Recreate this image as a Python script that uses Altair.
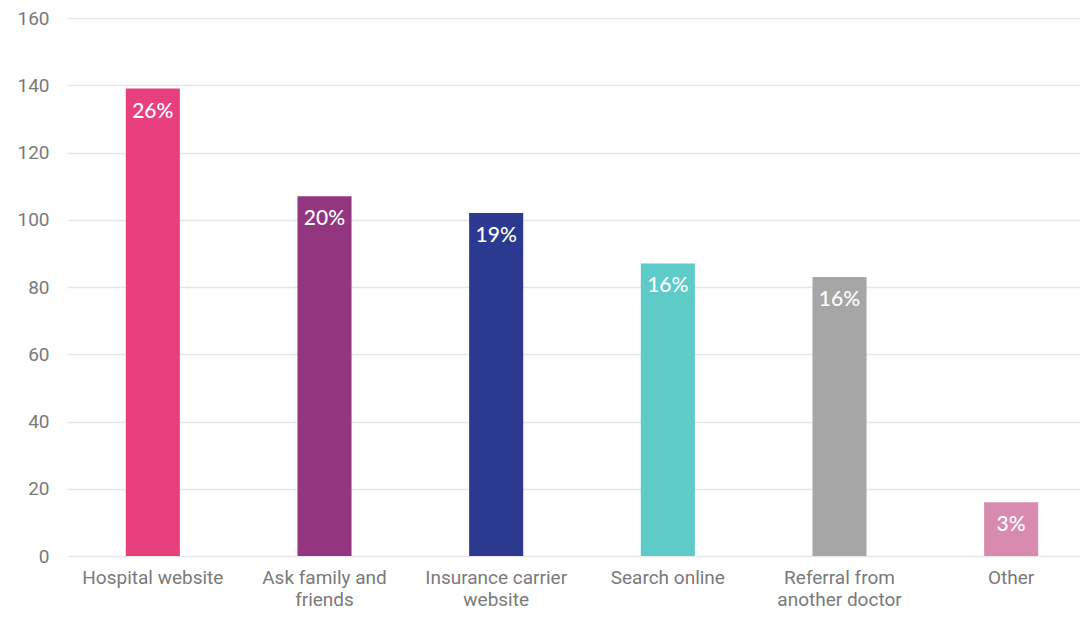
import altair as alt
import pandas as pd

categories = ["Hospital website", "Ask family and friends", "Insurance carrier website",
              "Search online", "Referral from another doctor", "Other"]
label_lines = [["Hospital website"], ["Ask family and", "friends"], ["Insurance carrier", "website"],
               ["Search online"], ["Referral from", "another doctor"], ["Other"]]
counts = [139, 107, 102, 87, 83, 16]
percents = ["26%", "20%", "19%", "16%", "16%", "3%"]
colors = ["#E8407F", "#943580", "#2B3990", "#5ECBC8", "#A6A6A6", "#D98AAF"]

df = pd.DataFrame({"category": categories, "count": counts, "pct": percents})

expr = "datum.label"
for cat, lines in reversed(list(zip(categories, label_lines))):
    arr = "[" + ", ".join("'" + l + "'" for l in lines) + "]"
    expr = f"datum.label == '{cat}' ? {arr} : ({expr})"

x = alt.X("category:N", sort=categories, title=None,
          scale=alt.Scale(paddingInner=0.685, paddingOuter=0.3425, range=[0, 1030]),
          axis=alt.Axis(labelAngle=0, labelExpr=expr, labelFontSize=19, labelColor="#7a7a7a",
                        labelFont="Roboto", labelPadding=21, ticks=False, domain=False,
                        labelLineHeight=22, labelBaseline="middle"))
y = alt.Y("count:Q", title=None,
          scale=alt.Scale(domain=[0, 160]),
          axis=alt.Axis(values=list(range(0, 161, 20)), labelFontSize=19, labelColor="#7a7a7a",
                        labelFont="Roboto", labelPadding=18, ticks=False, domain=False,
                        gridColor="#e6e6e6", gridWidth=1.5))

bars = alt.Chart(df).mark_bar().encode(
    x=x, y=y,
    color=alt.Color("category:N", sort=categories,
                    scale=alt.Scale(domain=categories, range=colors), legend=None),
)
text = alt.Chart(df).mark_text(baseline="middle", dy=23, fontSize=21, color="white",
                               font="Lato", fontWeight=500).encode(
    x=alt.X("category:N", sort=categories), y="count:Q", text="pct:N")

chart = (bars + text).properties(
    width=1013, height=538,
    autosize=alt.AutoSizeParams(type="none"),
    padding={"left": 59, "top": 10, "right": 0, "bottom": 56},
).configure(background="white", view=alt.ViewConfig(stroke="transparent"))

chart.save("out.html", embed_options={"renderer": "svg", "actions": False})
